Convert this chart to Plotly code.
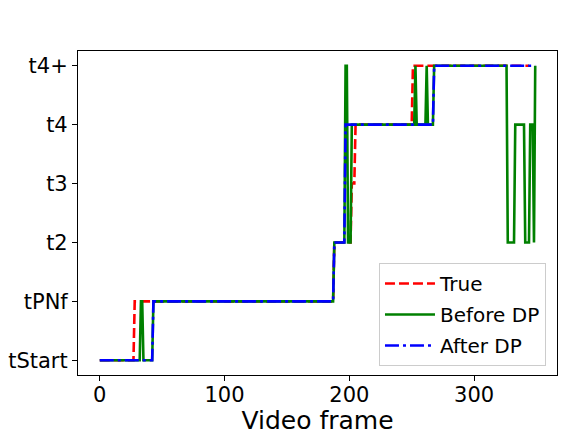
import plotly.graph_objects as go

# Category levels on the y axis (bottom to top)
levels = ["tStart", "tPNf", "t2", "t3", "t4", "t4+"]

# Step series: (first frame, level) runs
true_runs = [(0, "tStart"), (28, "tPNf"), (188, "t2"), (202, "t3"), (205, "t4"), (251, "t4+")]
true_len = 345

before_runs = [(0, "tStart"), (33, "tPNf"), (35, "tStart"), (43, "tPNf"), (188, "t2"),
               (197, "t4+"), (199, "t2"), (202, "t4"), (253, "t4+"), (254, "t4"),
               (262, "t4+"), (263, "t4"), (268, "t4+"), (327, "t2"), (333, "t4"),
               (341, "t2"), (345, "t4"), (348, "t2"), (349, "t4+")]
before_len = 350

after_runs = [(0, "tStart"), (43, "tPNf"), (188, "t2"), (197, "t4"), (268, "t4+")]
after_len = 350

x_ticks = [0, 100, 200, 300]


def expand(runs, n):
    vals = []
    for i, (start, lev) in enumerate(runs):
        end = runs[i + 1][0] if i + 1 < len(runs) else n
        vals.extend([lev] * (end - start))
    return list(range(n)), vals


xt, yt = expand(true_runs, true_len)
xb, yb = expand(before_runs, before_len)
xa, ya = expand(after_runs, after_len)

fig = go.Figure()
fig.add_trace(go.Scatter(x=xt, y=yt, mode="lines", name="True", legendgroup="a",
                         line=dict(color="#ff0000", width=2.6, dash="10px,4px")))
fig.add_trace(go.Scatter(x=xb, y=yb, mode="lines", name="Before DP", legendgroup="b",
                         line=dict(color="#008000", width=2.6)))
fig.add_trace(go.Scatter(x=xa, y=ya, mode="lines", name="After DP", legendgroup="c",
                         line=dict(color="#0000ff", width=2.6, dash="14px,4px,3px,4px")))

axis_common = dict(showline=True, linecolor="#000000", linewidth=1.1, mirror=True,
                   ticks="outside", ticklen=5, tickwidth=1.1, tickcolor="#000000",
                   showgrid=False, zeroline=False, automargin=False,
                   tickfont=dict(family="DejaVu Sans", size=21, color="#000000"))

fig.update_layout(
    width=581, height=435,
    margin=dict(l=78, r=24, t=51, b=60),
    paper_bgcolor="white", plot_bgcolor="white",
    font=dict(family="DejaVu Sans", color="#000000"),
    xaxis=dict(range=[-17.45, 366.45], tickvals=x_ticks, ticklabelstandoff=-4,
               title=dict(text="Video frame", font=dict(size=25), standoff=8),
               **axis_common),
    yaxis=dict(type="category", categoryorder="array", categoryarray=levels,
               range=[-0.25, 5.25], **axis_common),
    legend=dict(x=0.977, y=0.028, xanchor="right", yanchor="bottom",
                bgcolor="rgba(255,255,255,0.8)", bordercolor="#cccccc", borderwidth=1,
                font=dict(family="DejaVu Sans", size=20, color="#000000"),
                tracegroupgap=2, itemwidth=50),
    showlegend=True,
)

fig.write_html("out.html", config={"displayModeBar": False},
               post_script="document.body.style.margin='0';document.body.style.padding='0';")
